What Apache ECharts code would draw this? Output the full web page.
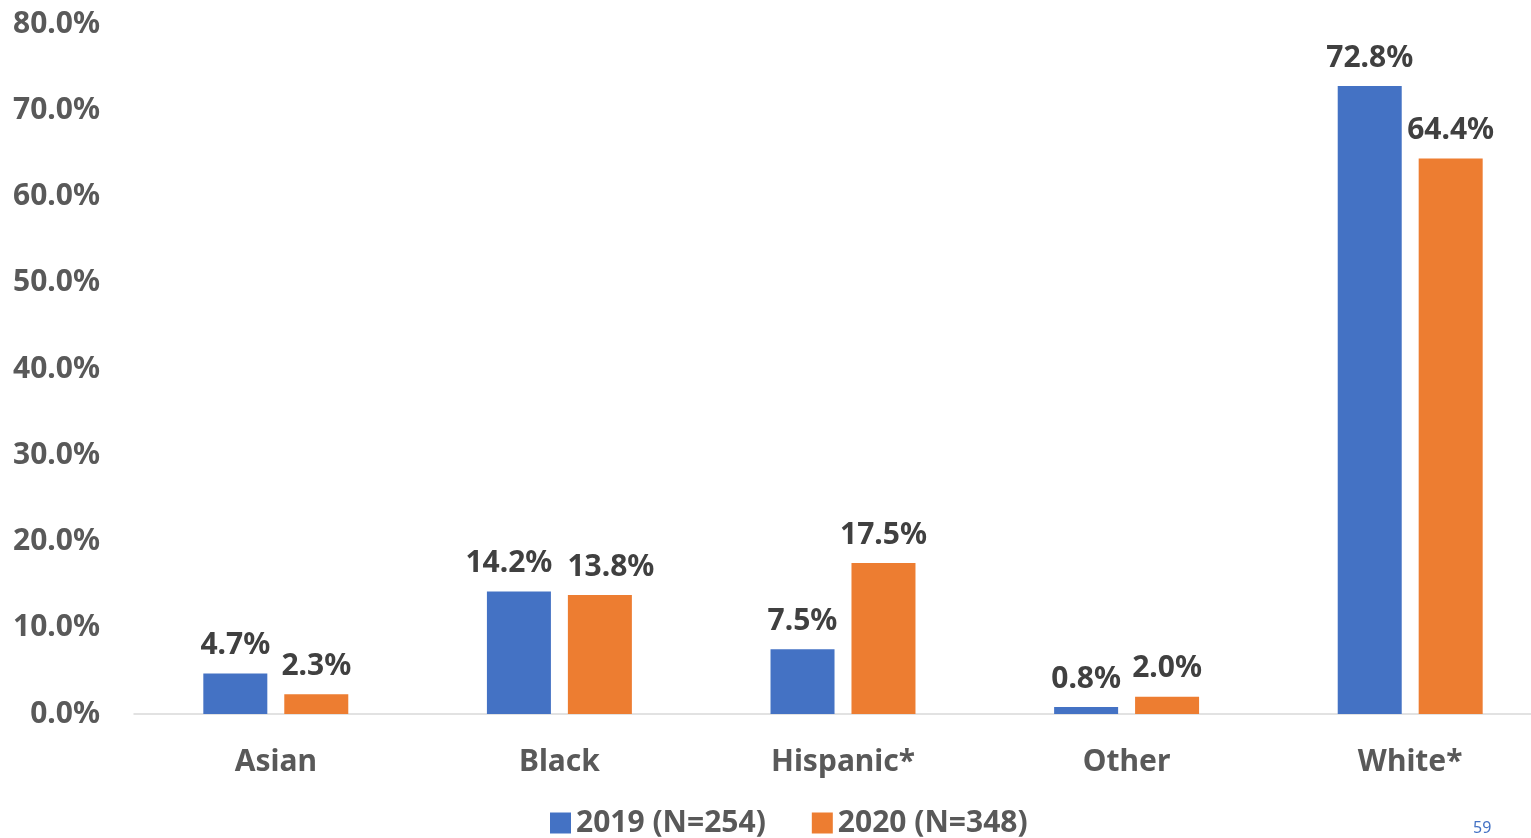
<!DOCTYPE html>
<html>
<head>
<meta charset="utf-8">
<script src="https://cdn.jsdelivr.net/npm/echarts@6/dist/echarts.min.js"></script>
<style>
  html, body { margin: 0; padding: 0; background: #fff; }
  #chart { width: 1531px; height: 838px; }
</style>
</head>
<body>
<div id="chart"></div>
<script>
// 数据
const categories = ['Asian', 'Black', 'Hispanic*', 'Other', 'White*']
const series2019 = [4.7, 14.2, 7.5, 0.8, 72.8]
const series2020 = [2.3, 13.8, 17.5, 2.0, 64.4]
const seriesNames = ['2019 (N=254)', '2020 (N=348)']
const pageNumber = '59'

const font = '"Noto Sans", "Open Sans", sans-serif'
const labelStyle = {
  show: true,
  position: 'top',
  distance: 13,
  color: '#404040',
  fontFamily: font,
  fontWeight: 'bold',
  fontSize: 30,
  formatter: p => p.value.toFixed(1) + '%'
}

// Black 组两个标签靠得太近，左右错开一点
function withShift(values, dx) {
  return values.map((v, i) => i === 1 ? { value: v, label: { offset: [dx, 0] } } : v)
}

const chart = echarts.init(document.getElementById('chart'))
chart.setOption({
  animation: false,
  // 右侧绘图区超出画布，与原图一致
  grid: { left: 134, right: -21, top: 24, bottom: 124, containLabel: false, outerBoundsMode: 'none' },
  legend: {
    left: 545,
    top: 803,
    itemWidth: 21,
    itemHeight: 21,
    itemGap: 46,
    icon: 'rect',
    textStyle: { color: '#595959', fontFamily: font, fontWeight: 'bold', fontSize: 30 },
    data: seriesNames
  },
  xAxis: {
    type: 'category',
    data: categories,
    axisLine: { lineStyle: { color: '#d9d9d9', width: 1.5 } },
    axisTick: { show: false },
    axisLabel: { margin: 33, color: '#595959', fontFamily: font, fontWeight: 'bold', fontSize: 30 }
  },
  yAxis: {
    type: 'value',
    min: 0,
    max: 80,
    interval: 10,
    splitLine: { show: false },
    axisLine: { show: false },
    axisTick: { show: false },
    axisLabel: {
      margin: 34,
      color: '#595959',
      fontFamily: font,
      fontWeight: 'bold',
      fontSize: 30,
      formatter: v => v.toFixed(1) + '%'
    }
  },
  series: [
    {
      name: seriesNames[0],
      type: 'bar',
      data: withShift(series2019, -10),
      barWidth: 64,
      barGap: '26.5%',
      itemStyle: { color: '#4472C4' },
      label: labelStyle
    },
    {
      name: seriesNames[1],
      type: 'bar',
      data: withShift(series2020, 11),
      barWidth: 64,
      itemStyle: { color: '#ED7D31' },
      label: labelStyle
    }
  ],
  graphic: [{
    type: 'text',
    left: 1473,
    top: 820,
    style: { text: pageNumber, fill: '#4472C4', font: '16px "Noto Sans", sans-serif' }
  }]
})
</script>
</body>
</html>
